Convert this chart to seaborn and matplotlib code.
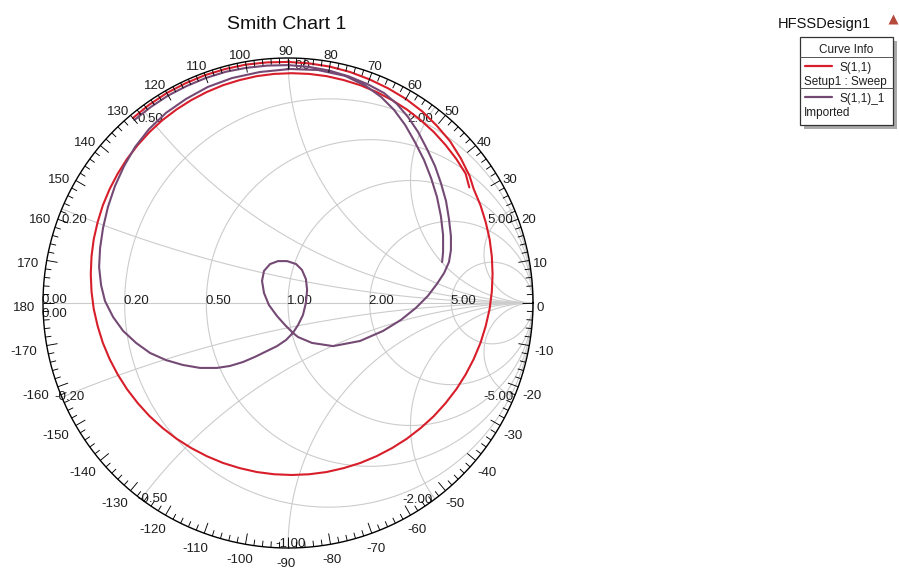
import numpy as np
import pandas as pd
import matplotlib
matplotlib.use("Agg")
import matplotlib.pyplot as plt
from matplotlib.patches import Circle, Rectangle
from matplotlib.collections import LineCollection
import seaborn as sns

sns.set_theme(style="white")
plt.rcParams["font.family"] = ["Liberation Sans", "DejaVu Sans"]

# ---------------- data ----------------
TITLE = "Smith Chart 1"
DESIGN = "HFSSDesign1"
SERIES_NAMES = ["S(1,1)", "S(1,1)_1"]
SERIES_SUB = ["Setup1 : Sweep", "Imported"]
R_GRID = [0.2, 0.5, 1.0, 2.0, 5.0]
X_GRID = [0.2, 0.5, 1.0, 2.0, 5.0]
ANGLE_TICKS = list(range(-170, 181, 10))

# S(1,1) Setup1 : Sweep  (reflection coefficient, real / imaginary)
RED_RE = [-0.633, -0.567, -0.495, -0.418, -0.339, -0.256, -0.172, -0.086, 0.000, 0.086,
          0.170, 0.253, 0.332, 0.409, 0.481, 0.548, 0.607, 0.661, 0.705, 0.741,
          0.758, 0.786, 0.807, 0.823, 0.832, 0.835, 0.832, 0.823, 0.807, 0.786,
          0.758, 0.725, 0.687, 0.643, 0.595, 0.542, 0.485, 0.425, 0.362, 0.295,
          0.227, 0.157, 0.087, 0.015, -0.057, -0.127, -0.197, -0.265, -0.332, -0.395,
          -0.455, -0.512, -0.565, -0.613, -0.657, -0.695, -0.728, -0.756, -0.777, -0.793,
          -0.802, -0.805, -0.802, -0.793, -0.777, -0.756, -0.728, -0.695, -0.657, -0.613,
          -0.565, -0.513, -0.455, -0.395, -0.332, -0.265, -0.197, -0.127, -0.057, 0.015,
          0.087, 0.157, 0.227, 0.295, 0.362, 0.425, 0.485, 0.542, 0.595, 0.643,
          0.687, 0.725, 0.740]
RED_IM = [0.755, 0.809, 0.857, 0.897, 0.930, 0.955, 0.973, 0.982, 0.984, 0.978,
          0.965, 0.943, 0.913, 0.876, 0.833, 0.782, 0.724, 0.661, 0.591, 0.519,
          0.465, 0.398, 0.330, 0.260, 0.190, 0.118, 0.047, -0.024, -0.094, -0.162,
          -0.229, -0.292, -0.352, -0.409, -0.462, -0.510, -0.554, -0.592, -0.625, -0.653,
          -0.674, -0.690, -0.699, -0.702, -0.699, -0.690, -0.674, -0.653, -0.625, -0.592,
          -0.554, -0.510, -0.462, -0.409, -0.352, -0.292, -0.229, -0.162, -0.094, -0.024,
          0.047, 0.118, 0.190, 0.260, 0.330, 0.398, 0.465, 0.528, 0.588, 0.645,
          0.698, 0.746, 0.790, 0.828, 0.861, 0.889, 0.910, 0.926, 0.935, 0.938,
          0.935, 0.926, 0.910, 0.889, 0.861, 0.828, 0.790, 0.746, 0.698, 0.645,
          0.588, 0.528, 0.472]

# S(1,1)_1 Imported
PURPLE_RE = [-0.627, -0.560, -0.489, -0.413, -0.334, -0.253, -0.169, -0.085, 0.000, 0.084,
             0.167, 0.248, 0.325,
             0.392, 0.445, 0.490, 0.531, 0.567, 0.600, 0.624, 0.645, 0.657, 0.665,
             0.665, 0.657, 0.637, 0.608, 0.571,
             0.522, 0.461, 0.388, 0.294, 0.184, 0.098, 0.041,
             0.020, -0.012, -0.045, -0.078, -0.098, -0.106, -0.098, -0.073, -0.041, -0.004,
             0.033, 0.057, 0.073, 0.078, 0.073, 0.061, 0.041, 0.020,
             -0.008, -0.045, -0.086, -0.135, -0.184, -0.237, -0.290, -0.359, -0.429, -0.498,
             -0.563, -0.620, -0.673, -0.714, -0.747, -0.763, -0.771, -0.767, -0.755, -0.735,
             -0.706, -0.669, -0.624, -0.567, -0.498, -0.416, -0.327, -0.229, -0.114, 0.008,
             0.122, 0.233,
             0.318, 0.380, 0.433, 0.478, 0.518, 0.555, 0.584, 0.608, 0.624, 0.633,
             0.633, 0.629]
PURPLE_IM = [0.747, 0.800, 0.847, 0.886, 0.919, 0.944, 0.960, 0.969, 0.971, 0.964,
             0.949, 0.925, 0.893,
             0.857, 0.812, 0.759, 0.698, 0.629, 0.559, 0.490, 0.416, 0.343, 0.273,
             0.216, 0.167, 0.122, 0.078, 0.029,
             -0.020, -0.069, -0.114, -0.155, -0.176, -0.163, -0.139,
             -0.122, -0.090, -0.053, -0.008, 0.041, 0.090, 0.131, 0.159, 0.171, 0.171,
             0.159, 0.135, 0.098, 0.053, 0.000, -0.049, -0.090, -0.122,
             -0.151, -0.176, -0.196, -0.220, -0.241, -0.257, -0.265, -0.265, -0.253, -0.233,
             -0.204, -0.163, -0.114, -0.057, 0.008, 0.073, 0.147, 0.224, 0.306, 0.392,
             0.478, 0.559, 0.637, 0.710, 0.776, 0.833, 0.882, 0.918, 0.943, 0.955,
             0.951, 0.927,
             0.886, 0.841, 0.788, 0.727, 0.657, 0.584, 0.510, 0.433, 0.355, 0.278,
             0.208, 0.167]

# ---------------- style ----------------
W, H = 899, 570
CX, CY, RPX = 288, 303, 245
RED = "#d81e2a"
PURPLE = "#744a74"
GRIDC = "#cccccc"
TXT = "#1e1e1e"

fig = plt.figure(figsize=(W / 100, H / 100), dpi=100)
fig.patch.set_facecolor("white")
L = 1.1
a = RPX * L
ax = fig.add_axes([(CX - a) / W, (H - (CY + a)) / H, 2 * a / W, 2 * a / H])
ax.set_xlim(-L, L)
ax.set_ylim(-L, L)
ax.axis("off")

clip = Circle((0, 0), 1.0, transform=ax.transData, facecolor="none", edgecolor="none")
ax.add_patch(clip)

t = np.linspace(0, 2 * np.pi, 4001)
for r in R_GRID:
    c, rad = r / (1 + r), 1 / (1 + r)
    ax.plot(c + rad * np.cos(t), rad * np.sin(t), color=GRIDC, lw=0.8, zorder=1)
for x in X_GRID:
    for s in (1, -1):
        ln, = ax.plot(1 + (1 / x) * np.cos(t), s / x + (1 / x) * np.sin(t),
                      color=GRIDC, lw=0.8, zorder=1)
        ln.set_clip_path(clip)
ax.plot([-1, 1], [0, 0], color=GRIDC, lw=0.8, zorder=1)

# outer circle and ticks
ax.plot(np.cos(t), np.sin(t), color="black", lw=1.0, zorder=4)
segs = []
for d in range(0, 360, 2):
    th = np.deg2rad(d)
    ln_px = 11 if d % 10 == 0 else 6
    rin = 1 - ln_px / RPX
    segs.append([(rin * np.cos(th), rin * np.sin(th)), (np.cos(th), np.sin(th))])
ax.add_collection(LineCollection(segs, colors="black", linewidths=0.65, zorder=4))

# angle labels around the ring
FS_RING = 9.5
em = FS_RING * 100 / 72
lc = (-2 / RPX, -3 / RPX)
for d in ANGLE_TICKS:
    s = str(d)
    w = sum(0.584 * em if ch == "-" else 0.556 * em for ch in s)
    th = np.deg2rad(d)
    p = (lc[0] + 1.0245 * np.cos(th), lc[1] + 1.0245 * np.sin(th))
    ax.annotate(s, xy=p, xytext=(np.cos(th) * w / 2, np.sin(th) * 5 - 5),
                textcoords="offset pixels", ha="center", va="baseline",
                fontsize=FS_RING, color=TXT, zorder=2, annotation_clip=False)

# resistance labels
FS_G = 9.5
ax.annotate("0.00", xy=(-1, 0), xytext=(-1, 0), textcoords="offset pixels",
            ha="left", va="baseline", fontsize=FS_G, color=TXT, zorder=2)
ax.annotate("0.00", xy=(-1, 0), xytext=(-1, -14), textcoords="offset pixels",
            ha="left", va="baseline", fontsize=FS_G, color=TXT, zorder=2)
for r in R_GRID:
    ax.annotate(f"{r:.2f}", xy=((r - 1) / (r + 1), 0), xytext=(-1, -1),
                textcoords="offset pixels", ha="left", va="baseline",
                fontsize=FS_G, color=TXT, zorder=2)

# reactance labels
x_style = {0.2: ("left", 0, -14, "left", -7, -3),
           0.5: ("left", -4, -15, "left", -4, -3),
           1.0: ("left", -3, -11, "left", -13, 1),
           2.0: ("right", -2, -15, "right", -2, -4),
           5.0: ("right", -1, -14, "right", -1, -3)}
for x in X_GRID:
    g = complex(0, x)
    gam = (g - 1) / (g + 1)
    ha1, dx1, dy1, ha2, dx2, dy2 = x_style[x]
    ax.annotate(f"{x:.2f}", xy=(gam.real, gam.imag), xytext=(dx1, dy1),
                textcoords="offset pixels", ha=ha1, va="baseline",
                fontsize=FS_G, color=TXT, zorder=2)
    ax.annotate(f"-{x:.2f}", xy=(gam.real, -gam.imag), xytext=(dx2, dy2),
                textcoords="offset pixels", ha=ha2, va="baseline",
                fontsize=FS_G, color=TXT, zorder=2)

# curves
df = pd.concat([
    pd.DataFrame({"re": RED_RE, "im": RED_IM, "curve": SERIES_NAMES[0]}),
    pd.DataFrame({"re": PURPLE_RE, "im": PURPLE_IM, "curve": SERIES_NAMES[1]}),
], ignore_index=True)
sns.lineplot(data=df, x="re", y="im", hue="curve",
             palette={SERIES_NAMES[0]: RED, SERIES_NAMES[1]: PURPLE},
             sort=False, estimator=None, lw=1.5, legend=False, ax=ax, zorder=3)
for ln in ax.get_lines()[-2:]:
    ln.set_solid_joinstyle("round")
    ln.set_solid_capstyle("round")
ax.set_xlim(-L, L)
ax.set_ylim(-L, L)
ax.axis("off")

# overlay in pixel coordinates for title & legend
ov = fig.add_axes([0, 0, 1, 1], zorder=5)
ov.set_xlim(0, W)
ov.set_ylim(H, 0)
ov.axis("off")
ov.patch.set_alpha(0)

ov.text(287, 29, TITLE, ha="center", va="baseline", fontsize=14, color="#111111")
ov.text(778, 28, DESIGN, ha="left", va="baseline", fontsize=10.5, color="#111111")
ov.plot([892.5], [19], marker="^", ms=6.5, color="#b54a3c", mec="none")

ov.add_patch(Rectangle((804, 41), 93, 88, facecolor="#a9a9a9", edgecolor="none"))
ov.add_patch(Rectangle((800, 37), 93, 88, facecolor="white", edgecolor="#333333", lw=0.9))
ov.plot([800, 893], [57, 57], color="#555555", lw=0.7)
ov.plot([800, 893], [88, 88], color="#555555", lw=0.7)
FS_L = 8.5
ov.text(846.5, 53, "Curve Info", ha="center", va="baseline", fontsize=FS_L, color=TXT)
ov.plot([805, 832], [66, 66], color=RED, lw=1.6)
ov.text(839, 71, SERIES_NAMES[0], ha="left", va="baseline", fontsize=FS_L, color=TXT)
ov.text(804, 85, SERIES_SUB[0], ha="left", va="baseline", fontsize=FS_L, color=TXT)
ov.plot([805, 832], [97, 97], color=PURPLE, lw=1.6)
ov.text(839, 102, SERIES_NAMES[1], ha="left", va="baseline", fontsize=FS_L, color=TXT)
ov.text(804, 116, SERIES_SUB[1], ha="left", va="baseline", fontsize=FS_L, color=TXT)

fig.savefig("out.png", dpi=100, facecolor="white")
